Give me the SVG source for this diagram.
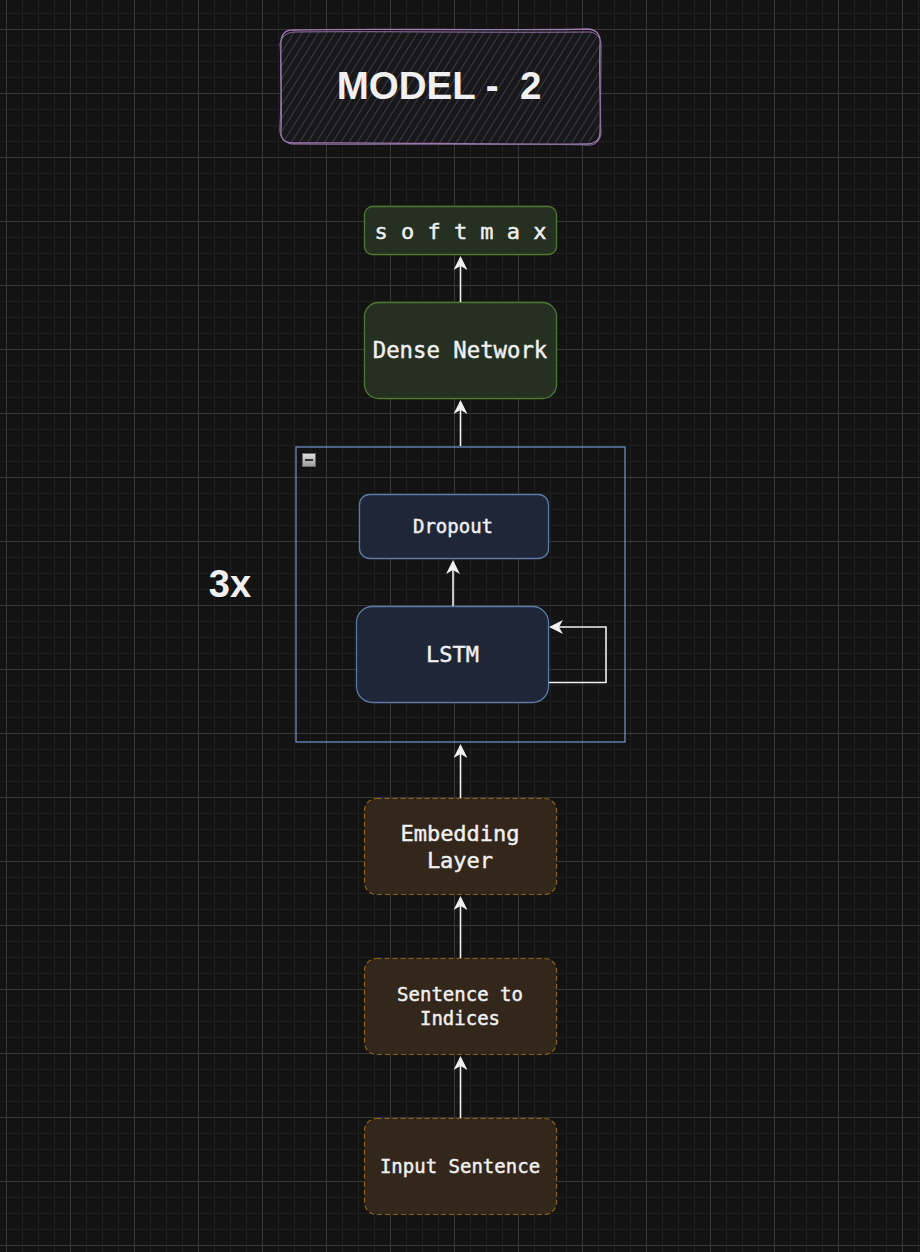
<svg xmlns="http://www.w3.org/2000/svg" width="920" height="1252" viewBox="0 0 920 1252">
<defs>
<pattern id="grid" patternUnits="userSpaceOnUse" x="6" y="29" width="64" height="64">
<rect width="64" height="64" fill="#131313"/>
<rect x="16" y="0" width="1" height="64" fill="#1f1f1f"/>
<rect x="32" y="0" width="1" height="64" fill="#1f1f1f"/>
<rect x="48" y="0" width="1" height="64" fill="#1f1f1f"/>
<rect x="0" y="16" width="64" height="1" fill="#1f1f1f"/>
<rect x="0" y="32" width="64" height="1" fill="#1f1f1f"/>
<rect x="0" y="48" width="64" height="1" fill="#1f1f1f"/>
<rect x="0" y="0" width="1" height="64" fill="#383838"/>
<rect x="0" y="0" width="64" height="1" fill="#383838"/>
</pattern>
<pattern id="hatch" patternUnits="userSpaceOnUse" width="7" height="7" patternTransform="rotate(32)">
<rect x="0" y="0" width="1" height="7" fill="#3c3b45"/>
</pattern>
<linearGradient id="btn" x1="0" y1="0" x2="0" y2="1">
<stop offset="0" stop-color="#e0e0e0"/>
<stop offset="1" stop-color="#9a9a9a"/>
</linearGradient>
<marker id="arr" markerUnits="userSpaceOnUse" markerWidth="14" markerHeight="14" viewBox="0 0 14 14" refX="12" refY="7" orient="auto">
<path d="M14,7 L0,0 L4,7 L0,14 Z" fill="#f0f0f0"/>
</marker>
<style>
.lbl{font-family:"DejaVu Sans Mono","Liberation Mono",monospace;fill:#f0f0f0;stroke:#f0f0f0;stroke-width:0.45;text-anchor:middle}
.green{fill:#252f22;stroke:#4f7a2e;stroke-width:1.3}
.blue{fill:#1e2638;stroke:#5b79a6;stroke-width:1.3}
.brown{fill:#33261a;stroke:#8c6418;stroke-width:1.2;stroke-dasharray:5 3}
.edge{fill:none;stroke:#f0f0f0;stroke-width:1.6;marker-end:url(#arr)}
</style>
</defs>
<rect width="920" height="1252" fill="url(#grid)"/>

<g id="title">
<rect x="281" y="31" width="318" height="112" rx="13" fill="#18181b"/>
<rect x="281" y="31" width="318" height="112" rx="13" fill="url(#hatch)"/>
<path d="M292,30 C380,28 500,31 588,29 C598,30 601,36 600,44 C599,80 601,112 600,132 C600,141 594,144 586,144 C500,145 380,142 293,143 C284,143 280,138 281,130 C282,100 280,70 281,42 C281,35 285,30 292,30 Z" fill="none" stroke="#a07db3" stroke-width="1.3"/>
<path d="M295,32 C380,31 500,33 590,32 C597,33 602,39 601,47 C601,80 600,110 601,134 C600,140 596,146 588,145 C500,143 380,145 291,144 C283,142 279,136 280,127 C281,100 282,70 280,44 C281,37 287,32 295,32 Z" fill="none" stroke="#8f6ea3" stroke-width="1"/>
<text x="439" y="99" font-family="'Liberation Sans',Arial,sans-serif" font-weight="bold" font-size="38.5" fill="#f0f0f0" text-anchor="middle" xml:space="preserve">MODEL -  2</text>
</g>

<g id="softmax">
<rect class="green" x="364.5" y="206.5" width="192" height="48" rx="8"/>
<text class="lbl" x="460.5" y="239" font-size="22">s o f t m a x</text>
</g>

<g id="dense">
<rect class="green" x="364.5" y="302.5" width="192" height="96" rx="14"/>
<text class="lbl" x="460" y="358" font-size="22.3">Dense Network</text>
</g>

<g id="group">
<rect x="296" y="447" width="329" height="295" fill="none" stroke="#6c8ebf" stroke-width="1.3"/>
<rect x="302.5" y="453.5" width="13" height="13" fill="url(#btn)" stroke="#6a6a6a" stroke-width="1"/>
<rect x="305" y="459" width="8" height="2" fill="#333"/>
</g>

<g id="label3x">
<text x="230" y="597" font-family="'Liberation Sans',Arial,sans-serif" font-weight="bold" font-size="38" fill="#f0f0f0" text-anchor="middle">3x</text>
</g>

<g id="dropout">
<rect class="blue" x="359.5" y="494.5" width="189" height="64" rx="10"/>
<text class="lbl" x="453" y="533" font-size="19">Dropout</text>
</g>

<g id="lstm">
<rect class="blue" x="356.5" y="606.5" width="192" height="96" rx="16"/>
<text class="lbl" x="452.5" y="662" font-size="22">LSTM</text>
</g>

<g id="embedding">
<rect class="brown" x="364.5" y="798.5" width="192" height="96" rx="12"/>
<text class="lbl" x="460" y="841" font-size="22">Embedding</text>
<text class="lbl" x="460" y="868" font-size="22">Layer</text>
</g>

<g id="sent2idx">
<rect class="brown" x="364.5" y="958.5" width="192" height="96" rx="12"/>
<text class="lbl" x="460" y="1001" font-size="19">Sentence to</text>
<text class="lbl" x="460" y="1025" font-size="19">Indices</text>
</g>

<g id="input">
<rect class="brown" x="364.5" y="1118.5" width="192" height="96" rx="12"/>
<text class="lbl" x="460" y="1173" font-size="19">Input Sentence</text>
</g>

<g id="connectors">
<path class="edge" d="M460.5,302 V258"/>
<path class="edge" d="M460.5,446 V402"/>
<path class="edge" d="M453,606 V562"/>
<path class="edge" d="M549,682.5 H606 V627 H551"/>
<path class="edge" d="M460.5,798 V746"/>
<path class="edge" d="M460.5,958 V898"/>
<path class="edge" d="M460.5,1118 V1058"/>
</g>
</svg>
